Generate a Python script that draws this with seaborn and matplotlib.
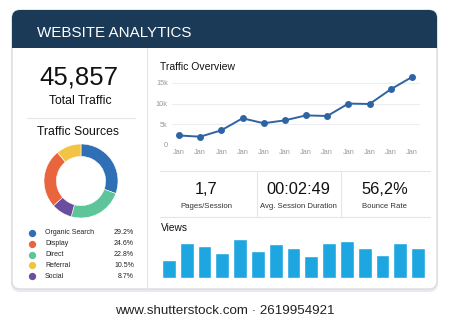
import matplotlib
matplotlib.use("Agg")
import matplotlib.pyplot as plt
from matplotlib.patches import FancyBboxPatch, Rectangle
import seaborn as sns
import pandas as pd
import numpy as np

# ---------------- data ----------------
title = "WEBSITE ANALYTICS"
total_traffic = "45,857"
source_names = ["Organic Search", "Display", "Direct", "Referral", "Social"]
source_pcts = [29.2, 24.6, 22.8, 10.5, 8.7]
source_colors = ["#2f6fb5", "#e9653e", "#5ec59b", "#f3c443", "#6b4e9f"]
donut_order = ["Organic Search", "Direct", "Social", "Display", "Referral"]

months = ["Jan"] * 12
traffic = [2300, 2000, 3550, 6450, 5250, 5950, 7150, 7000, 10000, 9900, 13450, 16400]
ytick_vals = [0, 5000, 10000, 15000]
ytick_labels = ["0", "5k", "10k", "15k"]

metric_values = ["1,7", "00:02:49", "56,2%"]
metric_labels = ["Pages/Session", "Avg. Session Duration", "Bounce Rate"]

views = [47, 91, 83, 65, 102, 71, 90, 79, 56, 93, 98, 78, 61, 91, 79]

# ---------------- figure ----------------
W, H = 450, 321
sns.set_theme(style="white")
plt.rcParams["font.family"] = ["Liberation Sans", "DejaVu Sans"]
fig = plt.figure(figsize=(W / 100, H / 100), dpi=100)
fig.patch.set_facecolor("white")

def ax_px(x0, y0, x1, y1, **kw):
    return fig.add_axes([x0 / W, 1 - y1 / H, (x1 - x0) / W, (y1 - y0) / H], **kw)

def ftext(x, y, s, **kw):
    fig.text(x / W, 1 - y / H, s, **kw)

# background canvas in pixel units
bg = ax_px(0, 0, W, H)
bg.set_xlim(0, W)
bg.set_ylim(H, 0)
bg.axis("off")
# shadow + card
bg.add_patch(FancyBboxPatch((11, 10), 427, 282, boxstyle="round,pad=0,rounding_size=9",
                            fc="#e8eaee", ec="none"))
bg.add_patch(FancyBboxPatch((12, 10), 425, 279, boxstyle="round,pad=0,rounding_size=8",
                            fc="white", ec="#d9dce1", lw=1.0))
bg.add_patch(FancyBboxPatch((12, 10), 425, 38, boxstyle="round,pad=0,rounding_size=8",
                            fc="#1b3a57", ec="none"))
bg.add_patch(Rectangle((12, 36), 425, 12, fc="#1b3a57", ec="none"))
# dividers
bg.plot([147, 147], [48, 289], color="#e3e5e8", lw=0.8)
bg.plot([27, 135], [118, 118], color="#e3e5e8", lw=0.8)
bg.plot([160, 430], [171, 171], color="#e3e5e8", lw=0.8)
bg.plot([160, 430], [217, 217], color="#e3e5e8", lw=0.8)
bg.plot([257, 257], [171, 217], color="#e3e5e8", lw=0.8)
bg.plot([341, 341], [171, 217], color="#e3e5e8", lw=0.8)

# header
ftext(37, 33, title, color="white", fontsize=10.9, va="center", ha="left")

# left panel
ftext(79, 77, total_traffic, fontsize=18.5, ha="center", va="center", color="#111111")
ftext(80, 101, "Total Traffic", fontsize=8.8, ha="center", va="center", color="#111111")
ftext(78, 132, "Traffic Sources", fontsize=8.8, ha="center", va="center", color="#111111")

# donut
dax = ax_px(41, 141, 121, 221)
dvals = [source_pcts[source_names.index(n)] for n in donut_order]
dcols = [source_colors[source_names.index(n)] for n in donut_order]
dax.pie(dvals, colors=dcols, startangle=90, counterclock=False, radius=0.925,
        wedgeprops=dict(width=0.31, edgecolor="white", linewidth=0.4))
dax.set_xlim(-1, 1)
dax.set_ylim(-1, 1)
dax.set_aspect("equal")
dax.axis("off")

# legend
for i, (n, p, c) in enumerate(zip(source_names, source_pcts, source_colors)):
    y = 233 + i * 10.8
    bg.scatter([32], [y], s=18, color=c, zorder=3)
    ftext(45, y, n, fontsize=5, va="center", ha="left", color="#222222")
    ftext(134, y, f"{p}%", fontsize=5, va="center", ha="right", color="#222222")

# traffic overview
ftext(160, 67, "Traffic Overview", fontsize=7.5, va="center", ha="left", color="#111111")
lax = ax_px(172, 72.5, 420, 145)
df_line = pd.DataFrame({"idx": np.arange(len(traffic)), "traffic": traffic})
sns.lineplot(data=df_line, x="idx", y="traffic", ax=lax, color="#2e64a3", lw=1.4,
             marker="o", markersize=5, markeredgewidth=0)
lax.set_xlim(-0.33, 11.38)
lax.set_ylim(0, 17500)
lax.set_yticks(ytick_vals)
lax.set_yticklabels(ytick_labels)
lax.set_xticks(range(len(months)))
lax.set_xticklabels(months)
lax.tick_params(axis="both", labelsize=5.3, colors="#9a9a9a", length=0, pad=3)
lax.set_xlabel("")
lax.set_ylabel("")
lax.grid(axis="y", color="#ebedf0", lw=0.8)
lax.set_axisbelow(True)
for s in lax.spines.values():
    s.set_visible(False)
lax.patch.set_alpha(0)

# metrics
for cx, v, l in zip([206, 298, 385], metric_values, metric_labels):
    ftext(cx, 190, v, fontsize=11.8, ha="center", va="center", color="#111111")
    ftext(cx, 206, l, fontsize=5.6, ha="center", va="center", color="#333333")

# views
ftext(161, 228, "Views", fontsize=7.3, va="center", ha="left", color="#111111")
bax = ax_px(162, 238, 425, 277.5)
df_views = pd.DataFrame({"i": np.arange(len(views)), "v": views})
sns.barplot(data=df_views, x="i", y="v", ax=bax, color="#1ea6e0", saturation=1,
            width=0.78)
bax.set_xlim(-0.39, len(views) - 0.61)
bax.set_ylim(0, 105)
bax.axis("off")

# footer
ftext(225, 311.5, "www.shutterstock.com \u00b7 2619954921", fontsize=9.6, ha="center",
      va="center", color="#222222")

fig.savefig("out.png", dpi=100, facecolor="white")
